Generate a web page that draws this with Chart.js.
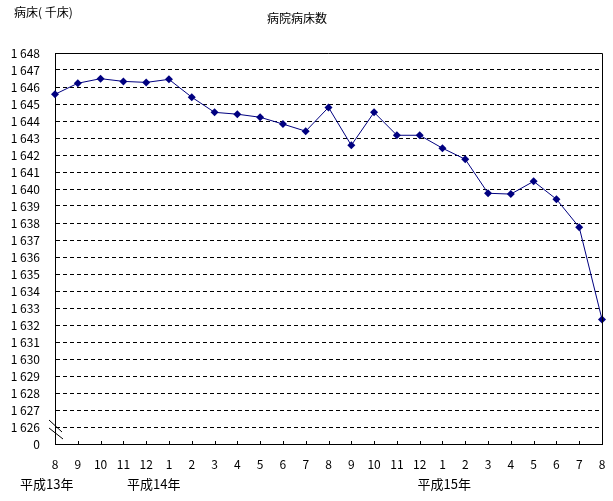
<!DOCTYPE html>
<html lang="ja">
<head>
  <meta charset="UTF-8">
  <title>病院病床数</title>
  <script src="https://cdn.jsdelivr.net/npm/chart.js@4.4.1/dist/chart.umd.min.js"></script>
  <style>
    html, body { margin: 0; padding: 0; background: #fff; }
    #wrap { width: 613px; height: 501px; position: relative; }
  </style>
</head>
<body>
  <div id="wrap"><canvas id="beds"></canvas></div>
  <script>
    // 月 (平成13年8月 〜 平成15年8月)
    const months = ['8', '9', '10', '11', '12', '1', '2', '3', '4', '5', '6', '7',
      '8', '9', '10', '11', '12', '1', '2', '3', '4', '5', '6', '7', '8'];
    // 病院病床数 (千床)
    const beds = [1645.57, 1646.22, 1646.49, 1646.33, 1646.27, 1646.45, 1645.40,
      1644.51, 1644.40, 1644.22, 1643.82, 1643.40, 1644.80, 1642.57, 1644.51,
      1643.16, 1643.16, 1642.40, 1641.75, 1639.75, 1639.70, 1640.45, 1639.40,
      1637.75, 1632.33];
    const yearLabels = ['平成13年', '平成14年', '平成15年'];
    const yearAt = [0, 5, 17]; // index of the month the year label sits under

    const FONT = '"Noto Sans CJK JP", "Noto Sans", sans-serif';
    const AXIS_MIN = 1625; // shown as 0 (broken axis)

    const extras = {
      id: 'extras',
      afterDraw(chart) {
        const ctx = chart.ctx;
        const a = chart.chartArea;
        const x = chart.scales.x;
        ctx.save();
        // frame top / right
        ctx.strokeStyle = '#000';
        ctx.lineWidth = 1;
        ctx.beginPath();
        ctx.moveTo(a.left, a.top + 0.5);
        ctx.lineTo(a.right + 0.5, a.top + 0.5);
        ctx.lineTo(a.right + 0.5, a.bottom);
        ctx.stroke();
        // inner tick marks on the category axis
        ctx.beginPath();
        for (let i = 1; i < months.length - 1; i++) {
          const px = Math.round(x.getPixelForTick(i)) + 0.5;
          ctx.moveTo(px, a.bottom);
          ctx.lineTo(px, a.bottom - 3);
        }
        ctx.stroke();
        // axis break marks
        ctx.beginPath();
        ctx.moveTo(a.left - 6, a.bottom - 24);
        ctx.lineTo(a.left + 7, a.bottom - 12);
        ctx.moveTo(a.left - 6, a.bottom - 16);
        ctx.lineTo(a.left + 8, a.bottom - 5);
        ctx.stroke();
        // texts
        ctx.fillStyle = '#000';
        ctx.font = '12px ' + FONT;
        ctx.textBaseline = 'middle';
        ctx.textAlign = 'left';
        ctx.fillText('病床( 千床)', 14, 12);
        ctx.textAlign = 'center';
        ctx.fillText('病院病床数', 297, 18);
        ctx.font = '13px ' + FONT;
        ctx.textAlign = 'left';
        const offs = [-35, -42, -25];
        yearLabels.forEach((t, k) => {
          ctx.fillText(t, x.getPixelForTick(yearAt[k]) + offs[k], 484);
        });
        ctx.restore();
      }
    };

    new Chart(document.getElementById('beds'), {
      type: 'line',
      data: {
        labels: months,
        datasets: [{
          data: beds,
          borderColor: '#000080',
          backgroundColor: '#000080',
          borderWidth: 1,
          tension: 0,
          pointStyle: 'rectRot',
          pointRadius: 4,
          pointBorderWidth: 0
        }]
      },
      options: {
        responsive: true,
        maintainAspectRatio: false,
        animation: false,
        layout: { padding: { top: 53, right: 11, left: 0, bottom: 0 } },
        plugins: { legend: { display: false }, tooltip: { enabled: false } },
        scales: {
          x: {
            offset: false,
            grid: { display: false },
            border: { display: true, color: '#000', width: 1 },
            ticks: {
              color: '#000', padding: 5, maxRotation: 0, autoSkip: false,
              font: { family: FONT, size: 12 }
            },
            afterFit(s) { s.height = 57; }
          },
          y: {
            min: AXIS_MIN,
            max: 1648,
            grid: {
              drawTicks: false,
              color: c => (c.tick.value === AXIS_MIN || c.tick.value === 1648) ? 'rgba(0,0,0,0)' : '#000'
            },
            border: { display: true, color: '#000', width: 1, dash: [4, 3] },
            ticks: {
              stepSize: 1,
              autoSkip: false,
              color: '#000',
              padding: 15,
              font: { family: FONT, size: 12 },
              callback: v => v === AXIS_MIN ? '0' : String(v).replace(/^(\d)(\d{3})$/, '$1 $2')
            },
            afterFit(s) { s.width = 55; }
          }
        }
      },
      plugins: [extras]
    });
  </script>
</body>
</html>
